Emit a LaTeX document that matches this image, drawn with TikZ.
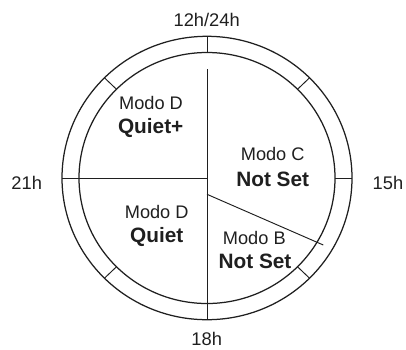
\documentclass[tikz,border=0pt]{standalone}
\usepackage{fontspec}
\usetikzlibrary{calc}
\setmainfont{Liberation Sans}
\begin{document}
\begin{tikzpicture}[x=1pt,y=-1pt,
  ring/.style={line width=1.25pt,draw=black!88},
  seg/.style={line width=0.95pt,draw=black!88},
  lbl/.style={inner sep=0pt,text=black!88,font=\fontsize{18.3}{20}\selectfont},
  modo/.style={inner sep=0pt,text=black!88,font=\fontsize{18.2}{20}\selectfont},
  val/.style={inner sep=0pt,text=black!88,font=\fontsize{20.8}{22}\selectfont\bfseries}]
\useasboundingbox (0,0) rectangle (406,349);
\coordinate (c) at (207,178);
% rings
\draw[ring] (c) ellipse [x radius=145, y radius=141.7];
\draw[ring] (c) ellipse [x radius=128, y radius=125.5];
% ticks
\coordinate (t12o) at (207,36.3);   \coordinate (t12i) at (207,52.5);
\coordinate (t15o) at (352,178);    \coordinate (t15i) at (335,178);
\coordinate (t18o) at (207,319.7);
\coordinate (t21o) at (62,178);
\draw[seg] (t12o) -- (t12i);
\draw[seg] (t15o) -- (t15i);
\foreach \a in {45,135,225,315}{
  \draw[seg] ($(c)+({145*cos(\a)},{141.7*sin(\a)})$) -- ($(c)+({128*cos(\a)},{125.5*sin(\a)})$);
}
% divisions
\coordinate (vtop) at (207,69);
\coordinate (sa) at (207,194.3);
\coordinate (sb) at (323.3,245);
\draw[seg] (vtop) -- (t18o);
\draw[seg] (t21o) -- (c);
\draw[seg] (sa) -- (sb);
% hour labels
\node[lbl] (h12) at (206.7,20) {12h/24h};
\node[lbl] (h15) at (388,182.7) {15h};
\node[lbl] (h18) at (206.7,339.3) {18h};
\node[lbl] (h21) at (26.7,182.7) {21h};
% modes
\node[modo] (m1) at (151,103.3) {Modo D};
\node[val]  (v1) at (150.7,128.3) {Quiet+};
\node[modo] (m2) at (272.7,154) {Modo C};
\node[val]  (v2) at (272.7,179.3) {Not Set};
\node[modo] (m3) at (156.7,212.3) {Modo D};
\node[val]  (v3) at (156.7,237.3) {Quiet};
\node[modo] (m4) at (254.3,237.7) {Modo B};
\node[val]  (v4) at (255,261.7) {Not Set};
\end{tikzpicture}
\end{document}
